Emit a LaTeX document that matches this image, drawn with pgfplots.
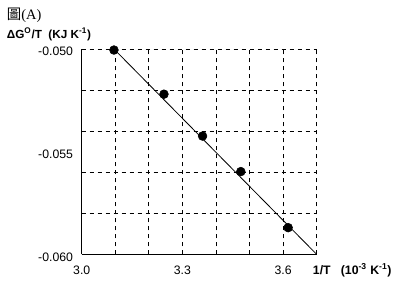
\documentclass[border=0pt]{standalone}
\usepackage{pgfplots}
\pgfplotsset{compat=1.18}
\usepackage{fontspec}
\setmainfont{Liberation Sans}
\newfontfamily\cjk{Noto Sans CJK TC}
\newfontfamily\serif{Liberation Serif}
\begin{document}
\begin{tikzpicture}
\path[use as bounding box] (0,0) rectangle (299.25pt,215.25pt);
\begin{axis}[
  at={(61.3pt,24.5pt)}, anchor=south west,
  scale only axis, width=176.2pt, height=154pt,
  xmin=3.0, xmax=3.7, ymin=-0.060, ymax=-0.050,
  axis x line*=bottom, axis y line*=left,
  axis line style={-, line width=0.6pt},
  scaled y ticks=false, scaled x ticks=false,
  xtick={3.0,3.3,3.6}, xticklabels={3.0,3.3,3.6},
  ytick={-0.060,-0.055,-0.050}, yticklabels={-0.060,-0.055,-0.050},
  minor xtick={3.1,3.2,3.3,3.4,3.5,3.6,3.7},
  minor ytick={-0.058,-0.056,-0.054,-0.052,-0.050},
  major tick length=0pt, minor tick length=0pt,
  minor grid style={black, dashed, line width=0.6pt, dash pattern=on 3.5pt off 2.5pt},
  xminorgrids=true, yminorgrids=true,
  tick label style={font=\fontsize{9.2}{10}\selectfont},
  /pgf/number format/assume math mode=true,
  xticklabel style={yshift=-5pt},
  yticklabel style={xshift=-3pt, yshift=-2pt},
  clip=false,
]
\addplot[black, line width=0.6pt] coordinates {(3.096,-0.0500) (3.7,-0.0600)};
\addplot[only marks, mark=*, mark size=3.3pt, black] coordinates {
(3.096,-0.05005) (3.245,-0.0522) (3.360,-0.05424) (3.474,-0.05597) (3.615,-0.0587)};
\end{axis}
\node[anchor=west, inner sep=0pt] at (5pt,204pt) {\fontsize{10.8}{12}\selectfont{\cjk 圖}{\serif (A)}};
\node[anchor=west, inner sep=0pt] at (5pt,189.5pt) {\fontsize{8.8}{10}\selectfont\bfseries ΔG\textsuperscript{O}/T\ \ (KJ K\textsuperscript{-1})};
\node[anchor=west, inner sep=0pt] at (234.5pt,12.5pt) {\fontsize{9.2}{10}\selectfont\bfseries 1/T\ \ \ (10\textsuperscript{-3} K\textsuperscript{-1})};
\end{tikzpicture}
\end{document}
